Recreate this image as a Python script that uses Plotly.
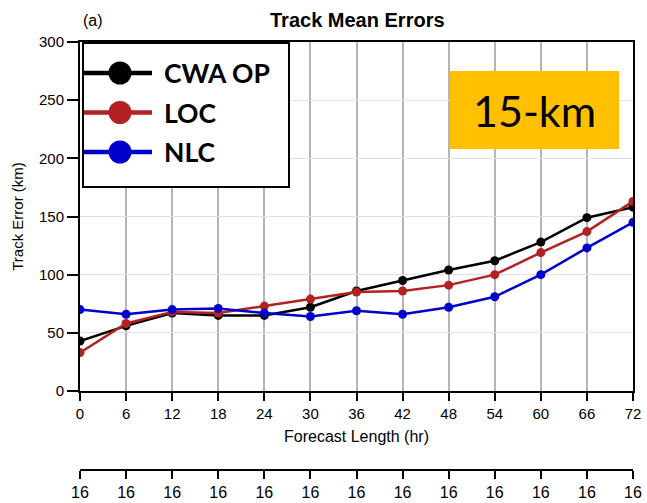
import plotly.graph_objects as go

# Forecast lead times (hr) and mean track errors (km)
lead_hours = [0, 6, 12, 18, 24, 30, 36, 42, 48, 54, 60, 66, 72]
cwa_op = [43, 56, 67, 65, 65, 72, 86, 95, 104, 112, 128, 149, 158]
loc = [33, 58, 68, 67, 73, 79, 85, 86, 91, 100, 119, 137, 163]
nlc = [70, 66, 70, 71, 67, 64, 69, 66, 72, 81, 100, 123, 145]
# number of verified cases at each lead time
case_counts = [16, 16, 16, 16, 16, 16, 16, 16, 16, 16, 16, 16, 16]

series_names = ["CWA OP", "LOC", "NLC"]
series_colors = ["#000000", "#B22222", "#0000CC"]
series_values = [cwa_op, loc, nlc]

W, H = 647, 503
ML, MR, MT, MB = 80, 14, 42, 33
PW = W - ML - MR
PH = H - MT - MB


def px(x):
    return (x - ML) / PW


def py(y):
    return (H - MB - y) / PH


fig = go.Figure()
for name, color, vals in zip(series_names, series_colors, series_values):
    fig.add_trace(go.Scatter(
        x=lead_hours, y=vals, name=name, mode="lines+markers",
        line=dict(color=color, width=2.5),
        marker=dict(color=color, size=9),
        showlegend=False,
    ))

# invisible trace carrying the case-count axis
fig.add_trace(go.Scatter(x=lead_hours, y=[None] * len(lead_hours), xaxis="x2",
                         showlegend=False, hoverinfo="skip"))

axis_font = dict(family="Liberation Sans", size=15, color="black")
title_font = dict(family="Liberation Sans", size=16, color="black")

fig.update_layout(
    width=W, height=H,
    margin=dict(l=ML, r=MR, t=MT, b=MB, autoexpand=False),
    paper_bgcolor="white", plot_bgcolor="white",
    font=axis_font,
    xaxis=dict(
        range=[0, 72], tickvals=lead_hours, ticks="outside", ticklen=8,
        tickwidth=1.5, tickcolor="black", showline=True, linecolor="black",
        linewidth=2, mirror=True, showgrid=True, gridcolor="#b4b4b4",
        gridwidth=1.5, zeroline=False, tickfont=axis_font, automargin=False,
        title=dict(text="Forecast Length (hr)", font=title_font, standoff=10),
        anchor="y",
    ),
    yaxis=dict(
        range=[0, 300], tickvals=[0, 50, 100, 150, 200, 250, 300],
        ticks="outside", ticklen=11, tickwidth=1.5, tickcolor="black",
        showline=True, linecolor="black", linewidth=2, mirror=True,
        showgrid=True, gridcolor="#e0e0e0", gridwidth=1.2, zeroline=False,
        tickfont=axis_font, domain=[py(391), 1], automargin=False,
        title=dict(text="Track Error (km)", font=axis_font, standoff=12),
    ),
    xaxis2=dict(
        range=[0, 72], overlaying="x", anchor="free", position=0, side="bottom",
        tickvals=lead_hours, ticktext=[str(c) for c in case_counts],
        ticks="outside", ticklen=8, tickwidth=1.5, tickcolor="black",
        showline=True, linecolor="black", linewidth=2, showgrid=False,
        zeroline=False, automargin=False,
        tickfont=dict(family="Liberation Sans", size=16, color="black"),
    ),
)

annotations = [
    dict(text="<b>Track Mean Errors</b>", x=px(357), y=py(20), xref="paper", yref="paper",
         showarrow=False, font=dict(family="Liberation Sans", size=20, color="black"),
         xanchor="center", yanchor="middle"),
    dict(text="(a)", x=px(81), y=py(20), xref="paper", yref="paper",
         showarrow=False, font=dict(family="Liberation Sans", size=16, color="black"),
         xanchor="left", yanchor="middle"),
]

shapes = []
# legend panel
shapes.append(dict(type="rect", xref="paper", yref="paper", layer="above",
                   x0=px(83), x1=px(289), y0=py(187), y1=py(43),
                   fillcolor="white", line=dict(color="black", width=2)))
for i, (name, color) in enumerate(zip(series_names, series_colors)):
    yrow = 73 + i * 39.5
    shapes.append(dict(type="line", xref="paper", yref="paper", layer="above",
                       x0=px(84), x1=px(152), y0=py(yrow), y1=py(yrow),
                       line=dict(color=color, width=4.5)))
    shapes.append(dict(type="circle", xref="paper", yref="paper", layer="above",
                       xsizemode="pixel", ysizemode="pixel",
                       xanchor=px(120), yanchor=py(yrow),
                       x0=-11.5, x1=11.5, y0=-11.5, y1=11.5,
                       fillcolor=color, line=dict(color=color, width=0)))
    annotations.append(dict(text=f"<b>{name}</b>", x=px(162), y=py(yrow), xref="paper",
                            yref="paper", showarrow=False, xanchor="left", yanchor="middle",
                            font=dict(family="Lato", size=26.5, color="black")))

# resolution tag
shapes.append(dict(type="rect", xref="paper", yref="paper", layer="above",
                   x0=px(450), x1=px(619), y0=py(149), y1=py(71),
                   fillcolor="#FFC000", line=dict(width=0)))
annotations.append(dict(text="15-km", x=px(534.5), y=py(110), xref="paper", yref="paper",
                        showarrow=False, xanchor="center", yanchor="middle",
                        font=dict(family="Lato", size=43, color="black")))

fig.update_layout(shapes=shapes, annotations=annotations)
fig.write_html("out.html")
